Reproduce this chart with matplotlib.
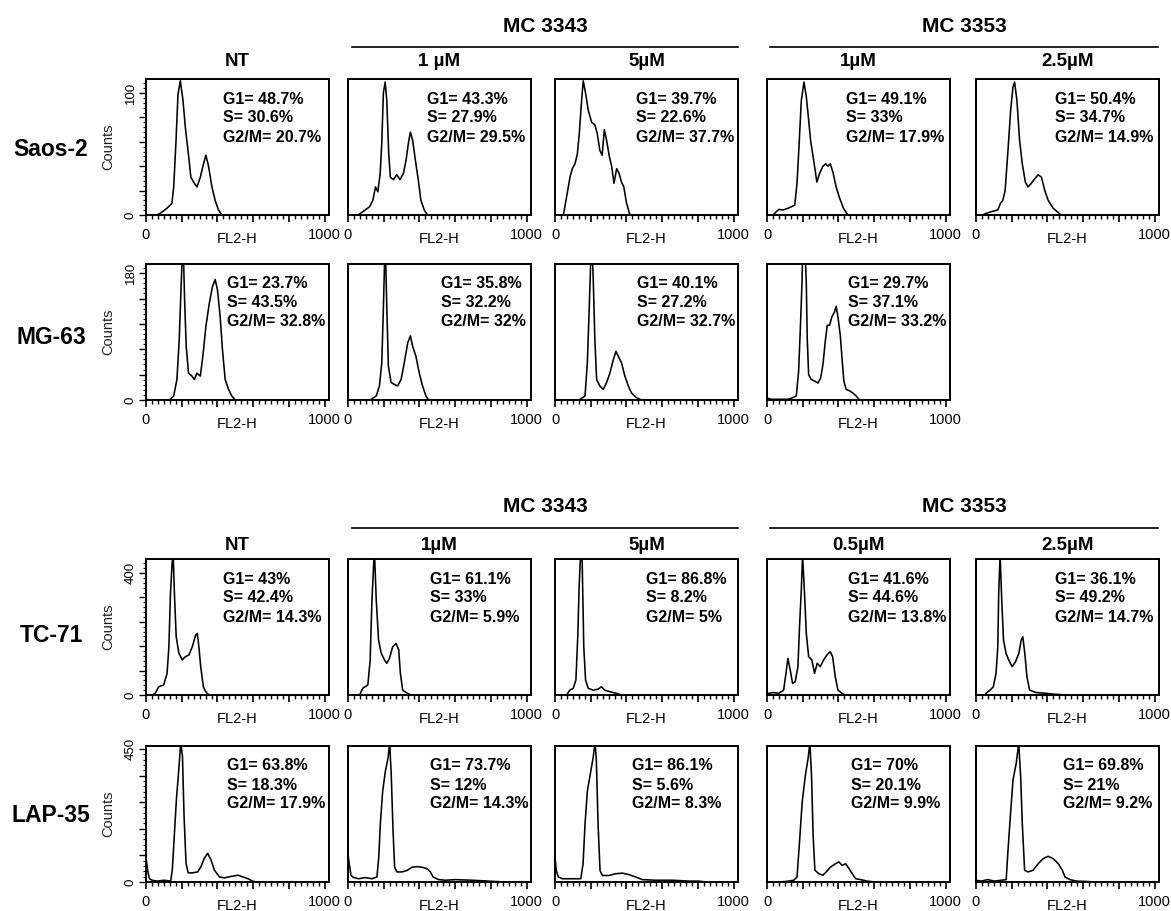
import matplotlib
matplotlib.use('Agg')
import matplotlib.pyplot as plt
from matplotlib.lines import Line2D
from matplotlib.ticker import FixedLocator, MultipleLocator, FixedFormatter

plt.rcParams['font.family'] = ['Liberation Sans', 'DejaVu Sans']

# ---------------- data (FL2-H channel, counts) ----------------
row_names = ["Saos-2", "MG-63", "TC-71", "LAP-35"]
titles_top = ["NT", "1 µM", "5µM", "1µM", "2.5µM"]
titles_bottom = ["NT", "1µM", "5µM", "0.5µM", "2.5µM"]
groups = ["MC 3343", "MC 3353"]
y_labels = [100, 180, 400, 450]
y_max = [111.5, 193, 446, 460]

saos2_g1 = [48.7, 43.3, 39.7, 49.1, 50.4]
saos2_s = [30.6, 27.9, 22.6, 33, 34.7]
saos2_g2m = [20.7, 29.5, 37.7, 17.9, 14.9]
mg63_g1 = [23.7, 35.8, 40.1, 29.7]
mg63_s = [43.5, 32.2, 27.2, 37.1]
mg63_g2m = [32.8, 32, 32.7, 33.2]
tc71_g1 = [43, 61.1, 86.8, 41.6, 36.1]
tc71_s = [42.4, 33, 8.2, 44.6, 49.2]
tc71_g2m = [14.3, 5.9, 5, 13.8, 14.7]
lap35_g1 = [63.8, 73.7, 86.1, 70, 69.8]
lap35_s = [18.3, 12, 5.6, 20.1, 21]
lap35_g2m = [17.9, 14.3, 8.3, 9.9, 9.2]

saos2_nt_x = [61, 80, 117, 145, 155, 168, 179, 192, 207, 220, 238, 251, 266, 285, 304, 322, 335, 350, 369, 387, 406, 425]
saos2_nt_y = [0, 1.4, 5.5, 9.6, 23, 61, 99, 110, 94, 72, 49, 31, 27, 23, 31, 42, 49, 40, 23, 12, 4, 0]
saos2_1_x = [56, 83, 121, 139, 154, 167, 180, 189, 198, 208, 217, 228, 237, 254, 273, 291, 310, 325, 338, 349, 362, 377, 393, 408, 427, 445]
saos2_1_y = [0, 2.7, 6.8, 12, 23, 19, 34, 59, 100, 109, 94, 50, 31, 29, 33, 29, 34, 45, 59, 68, 61, 45, 29, 12, 4, 0]
saos2_5_x = [47, 65, 84, 97, 112, 125, 136, 149, 158, 171, 186, 205, 223, 236, 251, 264, 276, 289, 304, 317, 330, 345, 359, 372, 385, 400, 419]
saos2_5_y = [0, 15, 31, 38, 42, 50, 67, 94, 110, 100, 86, 76, 74, 67, 53, 49, 70, 61, 48, 40, 26, 38, 34, 27, 23, 10, 0]
saos2_m1_x = [34, 52, 67, 89, 117, 155, 168, 179, 192, 207, 220, 233, 244, 261, 279, 294, 313, 328, 341, 354, 369, 387, 406, 428, 452]
saos2_m1_y = [0, 2.7, 4.6, 4.1, 5.5, 8, 26, 56, 94, 109, 97, 78, 61, 45, 27, 34, 40, 42, 40, 42, 35, 23, 14, 5.5, 0]
saos2_m25_x = [47, 85, 122, 137, 150, 163, 179, 194, 207, 216, 229, 244, 259, 276, 291, 310, 325, 348, 366, 385, 404, 432, 470]
saos2_m25_y = [0.8, 2.7, 4.1, 9.6, 12, 20, 53, 86, 105, 109, 94, 61, 42, 27, 23, 26, 29, 33, 31, 20, 12, 5.5, 0.8]

mg63_nt_x = [136, 155, 173, 186, 197, 207, 216, 225, 238, 257, 270, 285, 304, 318, 335, 354, 372, 387, 400, 415, 428, 443, 462, 480, 499]
mg63_nt_y = [1, 5.7, 29, 86, 165, 230, 142, 76, 38, 34, 29, 38, 34, 62, 104, 137, 161, 171, 156, 118, 71, 29, 15, 5.7, 0]
mg63_1_x = [130, 158, 176, 189, 198, 204, 208, 217, 226, 241, 260, 278, 297, 315, 334, 349, 362, 380, 399, 417, 436, 451]
mg63_1_y = [1, 5.7, 20, 53, 130, 190, 230, 132, 48, 25, 22, 20, 29, 53, 81, 91, 76, 62, 38, 20, 5.7, 0]
mg63_5_x = [140, 168, 181, 192, 199, 205, 214, 223, 233, 251, 270, 289, 307, 326, 341, 354, 372, 391, 410, 428, 456, 484]
mg63_5_y = [1, 5.7, 53, 134, 190, 230, 171, 86, 29, 20, 15, 25, 38, 57, 69, 62, 53, 34, 20, 10, 3.3, 0]
mg63_m1_x = [6, 24, 117, 136, 164, 177, 188, 196, 201, 210, 220, 225, 233, 248, 266, 285, 300, 313, 326, 337, 350, 363, 378, 387, 397, 410, 421, 430, 443, 462, 480, 499, 518]
mg63_m1_y = [2.4, 1, 1, 2.4, 5.7, 41, 111, 168, 230, 229, 166, 88, 36, 29, 27, 24, 31, 50, 83, 106, 106, 118, 125, 133, 118, 92, 55, 27, 15, 13, 10, 5.7, 0]

tc71_nt_x = [34, 52, 71, 99, 118, 128, 137, 146, 152, 159, 169, 184, 203, 221, 240, 259, 278, 287, 296, 306, 321, 334, 352]
tc71_nt_y = [0, 5.5, 27, 33, 71, 158, 333, 432, 460, 333, 191, 137, 115, 126, 131, 158, 197, 202, 158, 93, 27, 11, 0]
tc71_1_x = [65, 83, 111, 124, 134, 143, 148, 158, 171, 186, 204, 217, 232, 250, 269, 284, 293, 306, 325, 352]
tc71_1_y = [0, 22, 33, 115, 312, 421, 470, 312, 180, 137, 115, 104, 120, 158, 169, 148, 71, 16, 8, 0]
tc71_5_x = [65, 83, 102, 117, 128, 135, 143, 152, 161, 171, 186, 213, 241, 260, 278, 306, 343, 371]
tc71_5_y = [0, 16, 22, 49, 202, 355, 460, 440, 158, 49, 22, 16, 19, 27, 16, 11, 5.5, 0]
tc71_m05_x = [9, 37, 65, 93, 106, 117, 130, 143, 158, 173, 182, 192, 199, 209, 220, 233, 251, 266, 281, 298, 317, 335, 354, 367, 382, 397, 419, 438]
tc71_m05_y = [5.5, 8, 5.5, 16, 71, 120, 82, 38, 44, 93, 224, 344, 460, 344, 202, 126, 115, 71, 104, 93, 115, 131, 142, 126, 60, 16, 5.5, 0]
tc71_m25_x = [56, 79, 97, 112, 122, 127, 135, 144, 154, 168, 183, 202, 221, 240, 253, 262, 273, 285, 300, 337, 393, 431, 505]
tc71_m25_y = [5.5, 16, 27, 71, 158, 333, 460, 311, 180, 137, 115, 93, 109, 137, 180, 191, 137, 60, 16, 8, 5.5, 3, 0]

lap35_nt_x = [0, 2, 9, 19, 34, 62, 100, 138, 147, 157, 170, 185, 194, 204, 213, 224, 236, 260, 289, 307, 326, 345, 364, 383, 411, 439, 477, 515, 543, 571, 600, 628]
lap35_nt_y = [85, 74, 40, 11, 6, 3, 6, 3, 40, 142, 278, 392, 470, 426, 222, 63, 31, 31, 34, 51, 80, 97, 74, 40, 17, 14, 19, 23, 17, 11, 2, 0]
lap35_1_x = [0, 7, 17, 32, 60, 97, 134, 162, 172, 181, 194, 209, 224, 233, 242, 252, 261, 274, 302, 330, 358, 386, 414, 442, 461, 476, 507, 545, 601, 694, 787, 880]
lap35_1_y = [95, 61, 22, 15, 11, 15, 11, 17, 84, 196, 307, 374, 419, 470, 363, 173, 50, 34, 34, 39, 50, 52, 50, 45, 34, 17, 8, 6, 8, 6, 3, 0]
lap35_5_x = [0, 7, 19, 41, 97, 144, 157, 168, 181, 200, 213, 224, 231, 241, 252, 265, 302, 339, 377, 414, 451, 489, 563, 656, 750, 806, 843]
lap35_5_y = [84, 39, 17, 11, 11, 11, 61, 196, 307, 374, 419, 470, 419, 196, 39, 22, 22, 28, 30, 25, 17, 8, 6, 6, 3, 3, 0]
lap35_m05_x = [0, 66, 122, 150, 168, 182, 197, 215, 230, 240, 249, 258, 268, 290, 313, 331, 356, 384, 402, 421, 440, 459, 477, 496, 524, 562, 608]
lap35_m05_y = [0, 0, 3, 6, 17, 136, 271, 362, 418, 470, 362, 158, 40, 28, 23, 34, 51, 62, 68, 56, 62, 45, 28, 11, 8, 3, 0]
lap35_m25_x = [0, 28, 66, 103, 141, 169, 179, 192, 207, 225, 239, 250, 259, 272, 291, 320, 348, 376, 404, 432, 460, 483, 498, 526, 564, 611, 667]
lap35_m25_y = [6, 3, 8, 3, 6, 8, 107, 220, 345, 401, 470, 355, 198, 40, 34, 40, 62, 79, 87, 79, 62, 40, 17, 8, 3, 2, 0]

curves = [
    [(saos2_nt_x, saos2_nt_y), (saos2_1_x, saos2_1_y), (saos2_5_x, saos2_5_y), (saos2_m1_x, saos2_m1_y), (saos2_m25_x, saos2_m25_y)],
    [(mg63_nt_x, mg63_nt_y), (mg63_1_x, mg63_1_y), (mg63_5_x, mg63_5_y), (mg63_m1_x, mg63_m1_y)],
    [(tc71_nt_x, tc71_nt_y), (tc71_1_x, tc71_1_y), (tc71_5_x, tc71_5_y), (tc71_m05_x, tc71_m05_y), (tc71_m25_x, tc71_m25_y)],
    [(lap35_nt_x, lap35_nt_y), (lap35_1_x, lap35_1_y), (lap35_5_x, lap35_5_y), (lap35_m05_x, lap35_m05_y), (lap35_m25_x, lap35_m25_y)],
]
stats = [(saos2_g1, saos2_s, saos2_g2m), (mg63_g1, mg63_s, mg63_g2m),
         (tc71_g1, tc71_s, tc71_g2m), (lap35_g1, lap35_s, lap35_g2m)]

# ---------------- layout (pixels) ----------------
W, H = 1171, 911
col_left = [146, 348, 555, 767, 976]
col_w = 183
row_top = [79, 264, 559, 746]
row_h = 136
text_x = [[0.42, 0.43, 0.44, 0.43, 0.43],
          [0.44, 0.51, 0.45, 0.44],
          [0.42, 0.45, 0.50, 0.44, 0.43],
          [0.44, 0.45, 0.42, 0.46, 0.475]]
row_label_y = [150, 338, 635, 815]

fig = plt.figure(figsize=(W / 100, H / 100), dpi=100)


def fmt(v):
    return f"{v:g}%"


for r in range(4):
    ylab = y_labels[r]
    g1, s, g2m = stats[r]
    for c, (xs, ys) in enumerate(curves[r]):
        l = col_left[c]
        t = row_top[r]
        ax = fig.add_axes([l / W, 1 - (t + row_h) / H, col_w / W, row_h / H])
        ax.plot(xs, ys, color='black', lw=1.15)
        ax.set_xlim(0, 1024)
        ax.set_ylim(0, y_max[r])
        for sp in ax.spines.values():
            sp.set_linewidth(1.4)
        ax.xaxis.set_major_locator(FixedLocator([0, 200, 400, 600, 800, 1000]))
        ax.xaxis.set_major_formatter(FixedFormatter(['0', '', '', '', '', '1000']))
        ax.xaxis.set_minor_locator(MultipleLocator(200 / 6))
        ax.tick_params(axis='x', which='major', direction='out', length=5, width=1.2,
                       labelsize=10.5, pad=4.5, colors='black')
        ax.tick_params(axis='x', which='minor', direction='out', length=3, width=1.0)
        ax.text(0.5, -24 / row_h, 'FL2-H', transform=ax.transAxes, ha='center',
                va='center', fontsize=10.5)
        if c == 0:
            majors = [ylab * k / 5 for k in range(6)]
            ax.yaxis.set_major_locator(FixedLocator(majors))
            ax.yaxis.set_major_formatter(FixedFormatter(['0', '', '', '', '', str(ylab)]))
            ax.yaxis.set_minor_locator(MultipleLocator(ylab / 25))
            ax.tick_params(axis='y', which='major', direction='out', length=5, width=1.0,
                           labelsize=9.5, pad=1.5)
            ax.tick_params(axis='y', which='minor', direction='out', length=2.5, width=0.8)
            for lab in ax.get_yticklabels():
                lab.set_rotation(90)
                lab.set_va('center')
            ax.text(-38 / col_w, 0.5, 'Counts', transform=ax.transAxes, rotation=90,
                    ha='center', va='center', fontsize=10.5, color='#222222')
        else:
            ax.set_yticks([])
        lines = [f"G1= {fmt(g1[c])}", f"S= {fmt(s[c])}", f"G2/M= {fmt(g2m[c])}"]
        for i, line in enumerate(lines):
            ax.text(text_x[r][c], 1 - (20 + 19 * i) / row_h, line, transform=ax.transAxes,
                    ha='left', va='center', fontsize=11.5, fontweight='bold')
    fig.text(51 / W, 1 - row_label_y[r] / H, row_names[r], ha='center', va='center',
             fontsize=16.5, fontweight='bold')

# column titles and group headers
for titles, ty, gy, ly in [(titles_top, 62, 26, 47), (titles_bottom, 545, 507, 528)]:
    for c, name in enumerate(titles):
        cx = col_left[c] + col_w / 2
        fig.text(cx / W, 1 - ty / H, name, ha='center', va='center', fontsize=13.5,
                 fontweight='bold')
    for gname, (x0, x1) in zip(groups, [(352, 738), (770, 1158)]):
        fig.text((x0 + x1) / 2 / W, 1 - gy / H, gname, ha='center', va='center',
                 fontsize=15, fontweight='bold')
        fig.add_artist(Line2D([x0 / W, x1 / W], [1 - ly / H, 1 - ly / H],
                              transform=fig.transFigure, color='black', lw=1.2))

fig.savefig('out.png', dpi=100, facecolor='white')
